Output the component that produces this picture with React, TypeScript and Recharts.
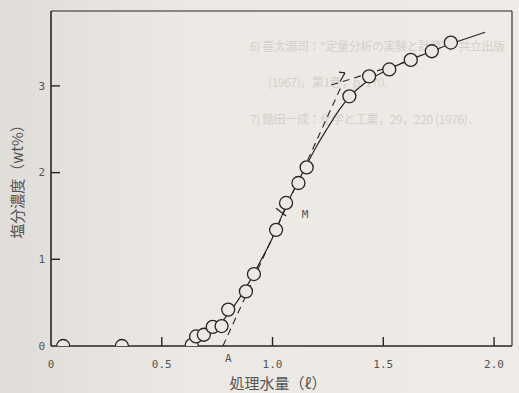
import React from 'react';
import { ComposedChart, Line, Scatter, XAxis, YAxis, ReferenceLine, ReferenceDot, Label } from 'recharts';

// axis ticks and extents
const xTicks = [0, 0.5, 1.0, 1.5, 2.0];
const yTicks = [0, 1, 2, 3];
const xMax = 2.081;
const yMax = 3.864;

// measured points: treated water (l) vs salt concentration (wt%)
const waterMeasured = [0.055, 0.32, 0.635, 0.655, 0.69, 0.73, 0.77, 0.8, 0.88, 0.916, 1.016, 1.061, 1.117, 1.154, 1.347, 1.436, 1.527, 1.624, 1.719, 1.805];
const saltMeasured = [0, 0, 0.01, 0.11, 0.13, 0.22, 0.23, 0.42, 0.63, 0.83, 1.34, 1.65, 1.88, 2.06, 2.88, 3.11, 3.19, 3.3, 3.4, 3.5];

// hand-drawn smooth curve
const waterCurve = [0.62, 0.66, 0.7, 0.75, 0.8, 0.85, 0.9, 0.95, 1.0, 1.05, 1.1, 1.15, 1.2, 1.25, 1.3, 1.35, 1.4, 1.45, 1.5, 1.6, 1.7, 1.8, 1.96];
const saltCurve = [0, 0.06, 0.13, 0.22, 0.37, 0.55, 0.76, 1.0, 1.25, 1.55, 1.82, 2.07, 2.31, 2.52, 2.72, 2.88, 3.0, 3.09, 3.16, 3.28, 3.38, 3.48, 3.62];

// dashed construction lines
const steepWater = [0.776, 1.315];
const steepSalt = [0, 3.02];
const flatWater = [1.265, 1.62];
const flatSalt = [3.01, 3.29];

const INK = '#262626';
const PAPER = '#ece8e4';
const GREY = '#555';
const MONO = '"DejaVu Sans Mono", monospace';
const CJK = '"Noto Sans CJK JP", sans-serif';

const pts = waterMeasured.map((x, i) => ({ x, y: saltMeasured[i] }));
const curve = waterCurve.map((x, i) => ({ x, y: saltCurve[i] }));
const steep = steepWater.map((x, i) => ({ x, y: steepSalt[i] }));
const flat = flatWater.map((x, i) => ({ x, y: flatSalt[i] }));

const YTick = (props: any) => {
  const { x, y, payload } = props;
  const axisX = x + 6;
  return (
    <g>
      {payload.value !== 0 && <line x1={axisX} x2={axisX + 9} y1={y} y2={y} stroke={INK} strokeWidth={1.4} />}
      <text x={x} y={y} dy="0.35em" textAnchor="end" fill={GREY} fontFamily={MONO} fontSize={11}>
        {payload.value}
      </text>
    </g>
  );
};

const XTick = (props: any) => {
  const { x, y, payload } = props;
  const axisY = y - 14;
  return (
    <g>
      {payload.value !== 0 && <line x1={x} x2={x} y1={axisY} y2={axisY - 9} stroke={INK} strokeWidth={1.4} />}
      <text x={x} y={y} dy="0.71em" textAnchor="middle" fill={GREY} fontFamily={MONO} fontSize={11}>
        {payload.value === 0 ? '0' : payload.value.toFixed(1)}
      </text>
    </g>
  );
};

const Ring = (props: any) => (
  <circle cx={props.cx} cy={props.cy} r={6.5} fill={PAPER} stroke={INK} strokeWidth={1.3} />
);

// show-through text from the facing page
const ghost = { position: 'absolute' as const, whiteSpace: 'nowrap' as const, color: '#d4d0cc', fontFamily: CJK, fontSize: 12, letterSpacing: -0.4 };

export default function App() {
  return (
    <div style={{ position: 'absolute', left: 0, top: 0, width: 519, height: 393, overflow: 'hidden', background: `linear-gradient(90deg, #e0dcd8 0%, ${PAPER} 35%, #efebe7 100%)` }}>
      <div style={{ ...ghost, left: 250, top: 37 }}>6) 喜太源司：“定量分析の実験と計算”，共立出版</div>
      <div style={{ ...ghost, left: 268, top: 73 }}>(1967)，第1巻，p. 170.</div>
      <div style={{ ...ghost, left: 250, top: 110 }}>7) 鋤田一成：化学と工業，29，220 (1976)．</div>
      <div style={{ position: 'absolute', left: 0, top: 0 }}>
        <ComposedChart width={519} height={393} margin={{ top: 11, right: 7, bottom: 0, left: 0 }}>
          <XAxis
            dataKey="x"
            type="number"
            domain={[0, xMax]}
            ticks={xTicks}
            height={47}
            tickSize={0}
            tickMargin={14}
            tick={<XTick />}
            axisLine={{ stroke: INK, strokeWidth: 1.6 }}
            allowDataOverflow
          >
            <Label
              content={() => (
                <text x={278} y={384} dy="0.35em" textAnchor="middle" fill={GREY} fontFamily={CJK} fontSize={15}>
                  処理水量（ℓ）
                </text>
              )}
            />
          </XAxis>
          <YAxis
            type="number"
            domain={[0, yMax]}
            ticks={yTicks}
            width={51}
            tickSize={0}
            tickMargin={6}
            tick={<YTick />}
            axisLine={{ stroke: INK, strokeWidth: 1.6 }}
            allowDataOverflow
          >
            <Label
              content={() => (
                <text x={18} y={178} transform="rotate(-90 18 178)" dy="0.35em" textAnchor="middle" fill={GREY} fontFamily={CJK} fontSize={15}>
                  塩分濃度（wt%）
                </text>
              )}
            />
          </YAxis>

          {/* frame: top and right borders */}
          <ReferenceLine y={yMax} stroke={INK} strokeWidth={1.1} />
          <ReferenceLine x={xMax} stroke={INK} strokeWidth={1.1} />

          <Line data={steep} dataKey="y" type="linear" stroke={INK} strokeWidth={1.1} strokeDasharray="7 5" dot={false} isAnimationActive={false} />
          <Line data={flat} dataKey="y" type="linear" stroke={INK} strokeWidth={1.1} strokeDasharray="7 5" dot={false} isAnimationActive={false} />
          <Line data={curve} dataKey="y" type="natural" stroke={INK} strokeWidth={1.2} dot={false} isAnimationActive={false} />

          <ReferenceLine segment={[{ x: 1.016, y: 1.59 }, { x: 1.061, y: 1.5 }]} stroke={INK} strokeWidth={1.3} />
          <ReferenceLine segment={[{ x: 1.3, y: 3.16 }, { x: 1.327, y: 3.15 }]} stroke={INK} strokeWidth={1.2} />
          <ReferenceLine segment={[{ x: 1.327, y: 3.15 }, { x: 1.305, y: 3.05 }]} stroke={INK} strokeWidth={1.2} />

          <Scatter data={pts} dataKey="y" shape={<Ring />} isAnimationActive={false} />

          <ReferenceDot
            x={0.8}
            y={0}
            r={0}
            label={(p: any) => (
              <text x={p.viewBox.x} y={p.viewBox.y + 12} dy="0.35em" textAnchor="middle" fill={GREY} fontFamily={MONO} fontSize={11}>
                A
              </text>
            )}
          />
          <ReferenceDot
            x={1.12}
            y={1.52}
            r={0}
            label={(p: any) => (
              <text x={p.viewBox.x + 6} y={p.viewBox.y} dy="0.35em" textAnchor="middle" fill={GREY} fontFamily={MONO} fontSize={11}>
                M
              </text>
            )}
          />
        </ComposedChart>
      </div>
    </div>
  );
}
